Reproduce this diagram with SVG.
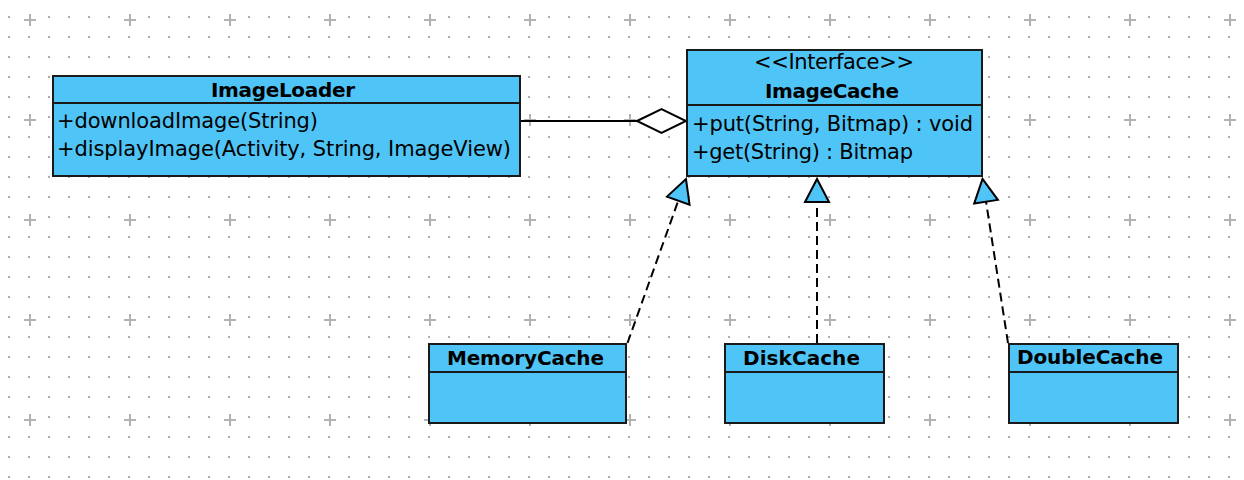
<svg xmlns="http://www.w3.org/2000/svg" width="1244" height="480" viewBox="0 0 1244 480">
  <style>
    .box { fill: #4fc5f7; stroke: #1a1a1a; stroke-width: 2; }
    .div { stroke: #1a1a1a; stroke-width: 2; }
    .t { font-family: "DejaVu Sans", "Liberation Sans", sans-serif; font-size: 21px; fill: #000; }
    .b { font-weight: bold; font-size: 20px; }
    .real { fill: none; stroke: #000; stroke-width: 2; stroke-dasharray: 9 5; }
    .assoc { fill: none; stroke: #000; stroke-width: 2; }
  </style>
  <defs>
    <pattern id="dots" width="20" height="20" patternUnits="userSpaceOnUse">
      <rect x="8" y="16" width="2" height="2" fill="#adadad"/>
    </pattern>
    <pattern id="crosses" width="100" height="100" patternUnits="userSpaceOnUse">
      <rect x="27" y="15" width="5" height="5" fill="#fff"/>
      <path d="M30,14 V26 M24,20 H36" stroke="#b3b3b3" stroke-width="2" fill="none"/>
    </pattern>
    <marker id="tri" markerUnits="userSpaceOnUse" markerWidth="30" markerHeight="30" refX="23" refY="12" orient="auto" overflow="visible">
      <path d="M0,0 L23,12 L0,24 Z" fill="#4fc5f7" stroke="#000" stroke-width="2" stroke-linejoin="miter"/>
    </marker>
  </defs>

  <rect width="1244" height="480" fill="#fff"/>
  <rect width="1244" height="480" fill="url(#dots)"/>
  <rect width="1244" height="480" fill="url(#crosses)"/>

  <g id="connectors">
    <line class="assoc" x1="521" y1="121" x2="637" y2="121"/>
    <polygon points="637,121 661.5,109 686,121 661.5,133" fill="#fff" stroke="#000" stroke-width="2"/>
    <line class="real" x1="627.5" y1="343" x2="686" y2="179" marker-end="url(#tri)"/>
    <line class="real" x1="817" y1="343" x2="817" y2="179" marker-end="url(#tri)"/>
    <line class="real" x1="1008" y1="343" x2="982.5" y2="179" marker-end="url(#tri)"/>
  </g>

  <g id="ImageLoader">
    <rect class="box" x="53" y="76" width="467" height="100"/>
    <line class="div" x1="53" y1="103" x2="520" y2="103"/>
    <text class="t b" x="211" y="97" textLength="144">ImageLoader</text>
    <text class="t" x="57" y="128" textLength="261">+downloadImage(String)</text>
    <text class="t" x="57" y="156" textLength="454">+displayImage(Activity, String, ImageView)</text>
  </g>

  <g id="ImageCache">
    <rect class="box" x="687" y="50" width="295" height="126"/>
    <line class="div" x1="687" y1="105" x2="982" y2="105"/>
    <text class="t" x="754" y="69" textLength="160">&lt;&lt;Interface&gt;&gt;</text>
    <text class="t b" x="765" y="98" textLength="134">ImageCache</text>
    <text class="t" x="692" y="131" textLength="281">+put(String, Bitmap) : void</text>
    <text class="t" x="692" y="159" textLength="221">+get(String) : Bitmap</text>
  </g>

  <g id="MemoryCache">
    <rect class="box" x="429" y="344" width="197" height="79"/>
    <line class="div" x1="429" y1="372" x2="626" y2="372"/>
    <text class="t b" x="447" y="365" textLength="157">MemoryCache</text>
  </g>

  <g id="DiskCache">
    <rect class="box" x="725" y="344" width="159" height="79"/>
    <line class="div" x1="725" y1="372" x2="884" y2="372"/>
    <text class="t b" x="743" y="365" textLength="117">DiskCache</text>
  </g>

  <g id="DoubleCache">
    <rect class="box" x="1009" y="344" width="169" height="79"/>
    <line class="div" x1="1009" y1="372" x2="1178" y2="372"/>
    <text class="t b" x="1017" y="364" textLength="146">DoubleCache</text>
  </g>
</svg>
